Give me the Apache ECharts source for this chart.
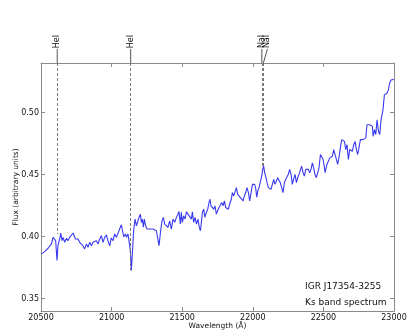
<!DOCTYPE html>
<html>
<head>
<meta charset="utf-8">
<script src="https://cdn.jsdelivr.net/npm/echarts@6/dist/echarts.min.js"></script>
<style>
  html, body { margin: 0; padding: 0; background: #fff; }
  #chart { width: 415px; height: 333px; }
</style>
</head>
<body>
<div id="chart"></div>
<script>
// spectrum (wavelength in Angstrom, flux in arbitrary units)
const wavelength = [
  20503,20514,20526,20538,20550,20562,20574,20585,20597,20604,
  20613,20620,20632,20640,20649,20656,20668,20680,20691,20703,
  20715,20727,20734,20744,20755,20762,20774,20786,20797,20809,
  20822,20833,20845,20857,20868,20880,20892,20904,20916,20928,
  20939,20951,20963,20974,20987,20997,21010,21022,21034,21045,
  21057,21069,21076,21086,21098,21105,21116,21123,21133,21140,
  21147,21156,21166,21176,21185,21194,21204,21211,21218,21225,
  21232,21241,21251,21261,21270,21282,21293,21305,21317,21329,
  21336,21346,21357,21367,21376,21388,21399,21411,21423,21435,
  21447,21459,21470,21477,21487,21494,21501,21511,21520,21530,
  21541,21553,21565,21572,21581,21591,21601,21612,21619,21629,
  21636,21643,21652,21661,21671,21681,21690,21697,21704,21714,
  21723,21732,21742,21751,21761,21770,21780,21789,21799,21808,
  21817,21827,21836,21848,21855,21865,21874,21884,21893,21902,
  21912,21921,21931,21940,21950,21959,21969,21978,21987,21997,
  22006,22013,22020,22028,22035,22044,22054,22063,22070,22077,
  22084,22091,22101,22110,22120,22129,22139,22148,22157,22167,
  22176,22186,22195,22205,22214,22224,22233,22242,22252,22261,
  22271,22280,22289,22299,22309,22318,22327,22337,22346,22356,
  22365,22375,22384,22394,22403,22412,22422,22431,22440,22450,
  22460,22469,22479,22488,22498,22506,22512,22517,22525,22535,
  22545,22554,22564,22573,22582,22592,22601,22610,22620,22630,
  22639,22649,22658,22667,22677,22686,22695,22705,22715,22724,
  22734,22743,22752,22762,22771,22781,22791,22800,22809,22819,
  22828,22837,22847,22852,22862,22871,22880,22890,22899,22908,
  22918,22922,22932,22942,22950,22960,22969,22979,22989,22998
];
const flux = [
  .3861,.3847,.3879,.3874,.3906,.3895,.3941,.3994,.4007,.3967,
  .3807,.3927,.3981,.4029,.3967,.3994,.3954,.3986,.3967,.3994,
  .4007,.4029,.4013,.3981,.3967,.3981,.3954,.3967,.3927,.3901,
  .3941,.3914,.3954,.3927,.3954,.3941,.3967,.3941,.3981,.4007,
  .3954,.3994,.4013,.3967,.3925,.3989,.3967,.4021,.3994,.4026,
  .4061,.4095,.4087,.3999,.4021,.3994,.4021,.4007,.3887,.3727,
  .3861,.4047,.4141,.4087,.4101,.4155,.4181,.4115,.4141,.4075,
  .4141,.4087,.4061,.4075,.4061,.4075,.4061,.4075,.4047,.4047,
  .3927,.4034,.4127,.4155,.4101,.4115,.4075,.4127,.4061,.4141,
  .4115,.4155,.4181,.4203,.4101,.4195,.4115,.4167,.4141,.4200,
  .4181,.4195,.4141,.4200,.4115,.4155,.4101,.4141,.4087,.4047,
  .4115,.4195,.4221,.4155,.4195,.4221,.4275,.4301,.4248,.4261,
  .4221,.4248,.4181,.4208,.4235,.4221,.4275,.4248,.4288,.4235,
  .4248,.4221,.4261,.4301,.4355,.4328,.4341,.4395,.4341,.4355,
  .4315,.4328,.4288,.4328,.4355,.4395,.4355,.4288,.4349,.4421,
  .4430,.4421,.4395,.4317,.4368,.4395,.4408,.4488,.4542,.4568,
  .4515,.4488,.4435,.4395,.4408,.4381,.4395,.4461,.4421,.4408,
  .4475,.4462,.4435,.4421,.4355,.4435,.4462,.4475,.4502,.4542,
  .4502,.4421,.4462,.4502,.4435,.4475,.4502,.4515,.4568,.4515,
  .4488,.4542,.4555,.4542,.4515,.4542,.4595,.4555,.4502,.4475,
  .4488,.4555,.4662,.4675,.4622,.4566,.4515,.4542,.4582,.4595,
  .4635,.4635,.4648,.4702,.4716,.4622,.4582,.4635,.4716,.4782,
  .4768,.4768,.4702,.4742,.4622,.4702,.4716,.4688,.4742,.4768,
  .4702,.4662,.4716,.4782,.4796,.4782,.4782,.4796,.4902,.4889,
  .4902,.4916,.4889,.4809,.4862,.4822,.4942,.4849,.4822,.4942,
  .4996,.5022,.5143,.5143,.5156,.5183,.5236,.5263,.5249,.5268
];

// identified lines
const lineNames = ['HeI', 'HeI', 'NaI', 'NaI'];
const lineWaves = [20615, 21135, 22064, 22075];
const lineEnds = [0.402, 0.373, 0.457, 0.457];   // flux where the dashed marker stops

const xMin = 20500, xMax = 23000, xStep = 500;
const yMin = 0.34, yMax = 0.54;
const yTicks = [0.35, 0.40, 0.45, 0.50];

const FONT = 'DejaVu Sans';
const AXIS_COLOR = '#8a8a8a';

const points = [];
for (let i = 0; i < Math.min(wavelength.length, flux.length); i++) {
    points.push([wavelength[i], flux[i]]);
}

const chart = echarts.init(document.getElementById('chart'), null, { renderer: 'canvas' });

const tickStyle = { show: true, inside: true, length: 4, lineStyle: { color: AXIS_COLOR } };
const lineStyleAxis = { show: true, onZero: false, lineStyle: { color: AXIS_COLOR, width: 1 } };

chart.setOption({
    animation: false,
    backgroundColor: '#fff',
    grid: { left: 41, right: 21, top: 63, bottom: 22, containLabel: false, outerBoundsMode: 'none' },
    xAxis: [
        {
            type: 'value', position: 'bottom',
            min: xMin, max: xMax, interval: xStep,
            name: 'Wavelength (Å)', nameLocation: 'middle', nameGap: 11,
            nameMoveOverlap: false,
            nameTextStyle: { fontFamily: FONT, fontSize: 7.5, color: '#111' },
            axisLine: lineStyleAxis,
            axisTick: tickStyle,
            splitLine: { show: false },
            axisLabel: {
                margin: 3, fontFamily: FONT, fontSize: 8, color: '#111',
                formatter: v => String(v)
            }
        },
        {
            type: 'value', position: 'top',
            min: xMin, max: xMax, interval: xStep,
            axisLine: lineStyleAxis,
            axisTick: tickStyle,
            splitLine: { show: false },
            axisLabel: { show: false }
        }
    ],
    yAxis: [
        {
            type: 'value', position: 'left',
            min: yMin, max: yMax,
            name: 'Flux (arbitrary units)', nameLocation: 'middle', nameGap: 21,
            nameMoveOverlap: false,
            nameTextStyle: { fontFamily: FONT, fontSize: 7.5, color: '#111' },
            axisLine: lineStyleAxis,
            axisTick: Object.assign({ customValues: yTicks }, tickStyle),
            splitLine: { show: false },
            axisLabel: {
                customValues: yTicks, margin: 2,
                fontFamily: FONT, fontSize: 8, color: '#111',
                formatter: v => v.toFixed(2)
            }
        },
        {
            type: 'value', position: 'right',
            min: yMin, max: yMax,
            axisLine: lineStyleAxis,
            axisTick: Object.assign({ customValues: yTicks }, tickStyle),
            splitLine: { show: false },
            axisLabel: { show: false }
        }
    ],
    series: [
        {
            type: 'line',
            data: points,
            xAxisIndex: 0, yAxisIndex: 0,
            showSymbol: false,
            lineStyle: { color: '#3a3af0', width: 1.1 },
            markLine: {
                silent: true,
                symbol: ['none', 'none'],
                label: { show: false },
                lineStyle: { type: [3, 2], color: '#777', width: 1 },
                data: lineWaves.map((w, i) => [
                    { coord: [w, yMax] },
                    { coord: [w, lineEnds[i]] }
                ])
            }
        }
    ]
});

// line labels above the frame, placed through the axis scale
const labelShift = [0, 0, 0, 4];
const graphics = [];
lineWaves.forEach((w, i) => {
    const p = chart.convertToPixel({ gridIndex: 0 }, [w, yMax]);
    const lx = p[0] + labelShift[i];
    graphics.push({
        type: 'line',
        shape: { x1: lx, y1: p[1] - 14, x2: p[0], y2: p[1] },
        style: { stroke: '#555', lineWidth: 1 },
        silent: true
    });
    graphics.push({
        type: 'text',
        x: lx, y: p[1] - 21.5,
        rotation: Math.PI / 2,
        style: {
            text: lineNames[i],
            fontFamily: FONT, fontSize: 8, fill: '#111',
            align: 'center', verticalAlign: 'middle',
            textAlign: 'center', textVerticalAlign: 'middle'
        },
        silent: true
    });
});

graphics.push({
    type: 'text',
    left: 305, top: 278,
    style: {
        text: 'IGR J17354-3255\nKs band spectrum',
        fontFamily: FONT, fontSize: 9, fill: '#111',
        lineHeight: 16.5
    },
    silent: true
});

chart.setOption({ graphic: graphics });
</script>
</body>
</html>
